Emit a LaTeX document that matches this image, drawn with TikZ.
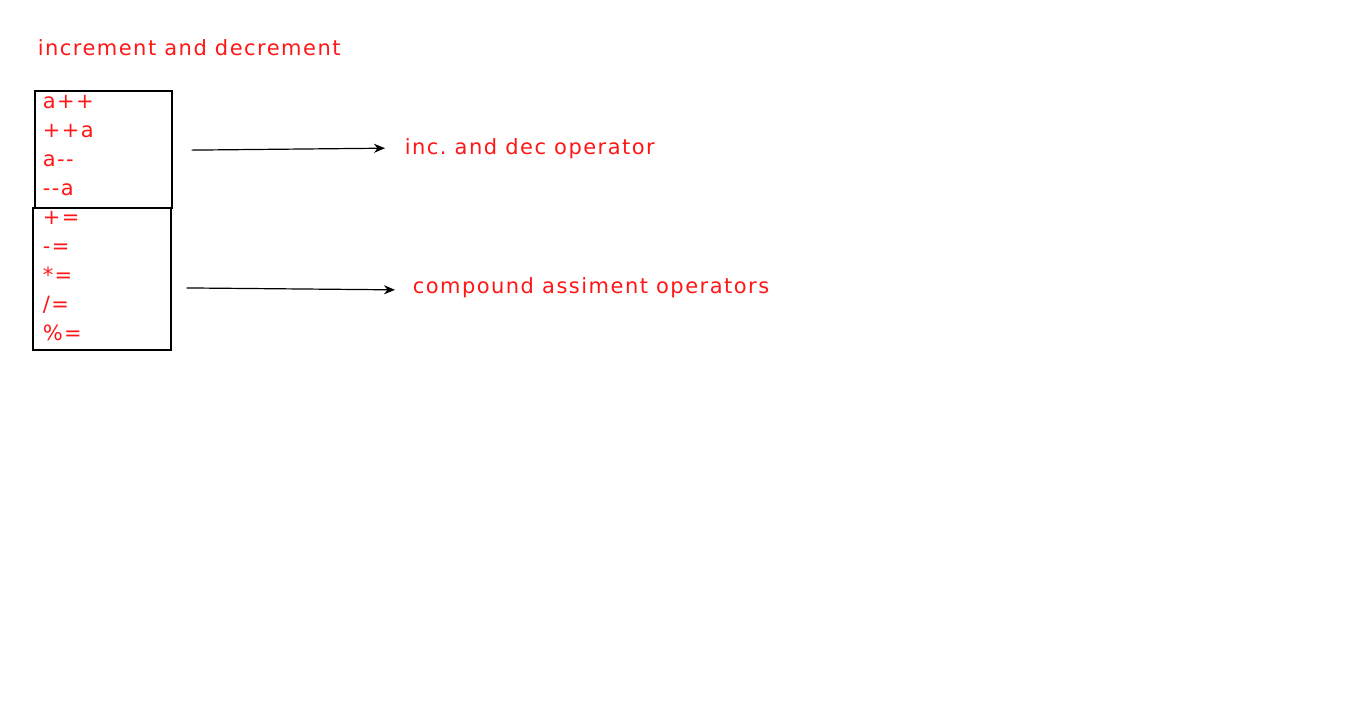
\documentclass[tikz,border=0pt]{standalone}
\usepackage{fontspec}
\newfontfamily\verdanalike[LetterSpace=7]{DejaVu Sans}
\usetikzlibrary{arrows.meta,positioning}
\definecolor{txtred}{RGB}{255,22,22}
\newcommand\lastdepth[1]{\rule[-#1]{0pt}{#1}}

\begin{document}
\begin{tikzpicture}[x=1pt,y=-1pt,>={Stealth[length=11pt,width=9pt,inset=3.5pt]},line width=1.6pt]
        \tikzstyle{lbl}=[text=txtred,font=\verdanalike\fontsize{21}{29}\selectfont,inner sep=0pt,anchor=west]
        \tikzstyle{opbox}=[rectangle,draw,lbl,align=left,inner sep=0pt,anchor=north west]
        \useasboundingbox (0,0) rectangle (1366,715);

        \node [lbl] (title) at (37,48) {increment and decrement};
        \node [opbox,minimum height=117pt,minimum width=137pt,text width=137pt] (incbox) at (34,90)
            {\hspace*{8pt}a++\\\hspace*{8pt}++a\\\hspace*{8pt}a--\\\hspace*{8pt}--a\lastdepth{8pt}}; %inc/dec
        \node [opbox,minimum height=142pt,minimum width=138pt,text width=138pt] (cmpbox) at (32,207)
            {\hspace*{10pt}+=\\\hspace*{10pt}-=\\\hspace*{10pt}*=\\\hspace*{10pt}/=\\\hspace*{10pt}\%=\lastdepth{6pt}}; %compound
        \node [lbl] (incop) at (404,149) {inc.\ and dec operator};
        \node [lbl] (cmpop) at (412,288) {compound assiment operators};

        \draw [->,line width=1.2pt,shorten <=19pt,shorten >=19pt] ([yshift=-1pt]incbox.east) -- ([yshift=1pt]incop.west);
        \draw [->,line width=1.2pt,shorten <=15pt,shorten >=17pt] ([yshift=-9pt]cmpbox.east) -- ([yshift=-2pt]cmpop.west);
\end{tikzpicture}
\end{document}
